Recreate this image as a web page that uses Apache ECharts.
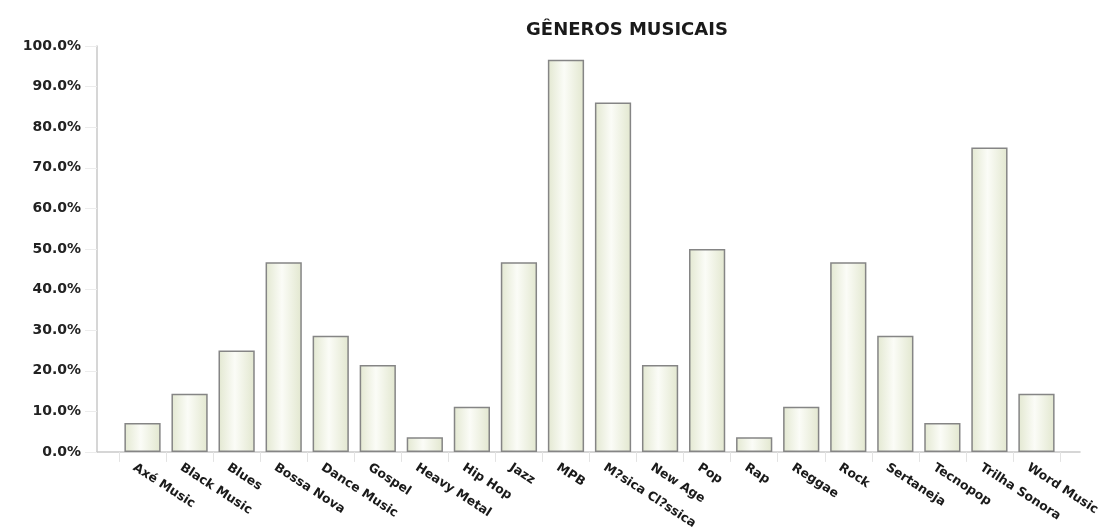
<!DOCTYPE html>
<html>
<head>
<meta charset="utf-8">
<script src="https://cdn.jsdelivr.net/npm/echarts@6/dist/echarts.min.js"></script>
<style>
  html, body { margin: 0; padding: 0; background: #fff; }
  #chart { width: 1104px; height: 532px; }
</style>
</head>
<body>
<div id="chart"></div>
<script>
// Gêneros musicais — percent of answers per genre
const categories = [
  'Axé Music', 'Black Music', 'Blues', 'Bossa Nova', 'Dance Music',
  'Gospel', 'Heavy Metal', 'Hip Hop', 'Jazz', 'MPB',
  'M?sica Cl?ssica', 'New Age', 'Pop', 'Rap', 'Reggae',
  'Rock', 'Sertaneja', 'Tecnopop', 'Trilha Sonora', 'Word Music'
];
const values = [
  7.1, 14.3, 25.0, 46.7, 28.6,
  21.4, 3.6, 11.1, 46.7, 96.6,
  86.1, 21.4, 50.0, 3.6, 11.1,
  46.7, 28.6, 7.1, 75.0, 14.3
];
const yTicks = { min: 0, max: 100, interval: 10 };

const FONT = '"DejaVu Sans", Verdana, sans-serif';
const chart = echarts.init(document.getElementById('chart'), null, { renderer: 'canvas' });

// bars get a soft horizontal sheen like the original
const barFill = new echarts.graphic.LinearGradient(0, 0, 1, 0, [
  { offset: 0, color: '#e3e8d1' },
  { offset: 0.45, color: '#fbfcf7' },
  { offset: 1, color: '#e2e7cf' }
]);

chart.setOption({
  animation: false,
  backgroundColor: '#ffffff',
  title: {
    text: 'GÊNEROS MUSICAIS',
    left: 622,
    top: 16,
    textAlign: 'center',
    textStyle: { fontFamily: FONT, fontWeight: 'bold', fontSize: 18, color: '#1a1a1a' }
  },
  // grid 0 carries the full-width frame (y labels + base line),
  // grid 1 is the inset band where the categories sit
  grid: [
    { left: 97, right: 24, top: 46, bottom: 80 },
    { left: 119, right: 44, top: 46, bottom: 80 }
  ],
  xAxis: [
    {
      gridIndex: 0, type: 'value', min: 0, max: 1,
      axisLine: { show: true, lineStyle: { color: '#c9c9c9', width: 1.5 } },
      axisTick: { show: false }, axisLabel: { show: false }, splitLine: { show: false }
    },
    {
      gridIndex: 1, type: 'category', data: categories,
      axisLine: { show: false },
      axisTick: { show: true, length: 10, lineStyle: { color: '#e3e3e3', width: 1 } },
      axisLabel: {
        rotate: -33, margin: 20, interval: 0, padding: [0, 0, 0, -10],
        fontFamily: FONT, fontWeight: 'bold', fontSize: 12.5, color: '#1a1a1a'
      }
    }
  ],
  yAxis: [
    {
      gridIndex: 0, type: 'value',
      min: yTicks.min, max: yTicks.max, interval: yTicks.interval,
      axisLine: { show: true, lineStyle: { color: '#c9c9c9', width: 1.5 } },
      axisTick: { show: true, length: 12, lineStyle: { color: '#ececec' } },
      splitLine: { show: false },
      axisLabel: {
        margin: 16,
        formatter: v => v.toFixed(1) + '%',
        fontFamily: FONT, fontWeight: 'bold', fontSize: 14, color: '#222'
      }
    },
    {
      gridIndex: 1, type: 'value', min: yTicks.min, max: yTicks.max,
      show: false, splitLine: { show: false }
    }
  ],
  series: [{
    type: 'bar',
    xAxisIndex: 1,
    yAxisIndex: 1,
    data: values,
    barCategoryGap: '23%',
    itemStyle: { color: barFill, borderColor: '#858585', borderWidth: 1.5 }
  }]
});
</script>
</body>
</html>
